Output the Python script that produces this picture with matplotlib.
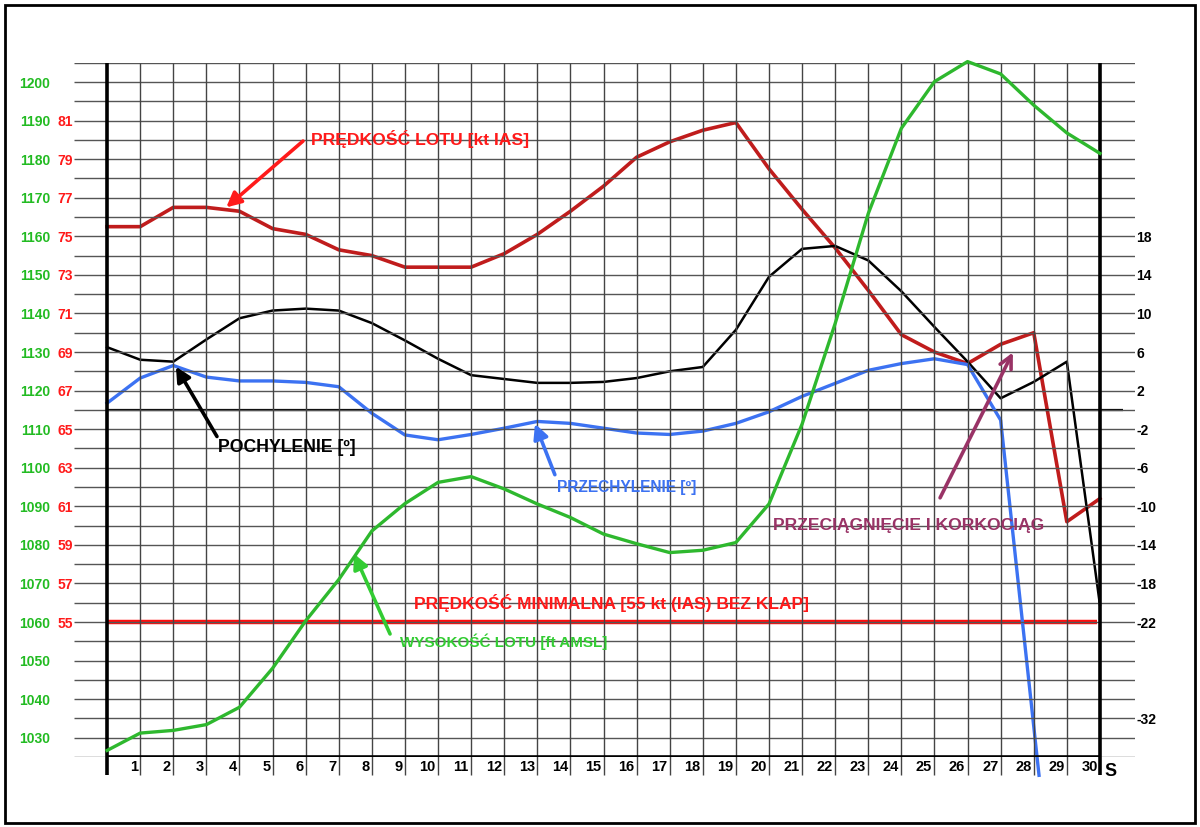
import numpy as np
import matplotlib.pyplot as plt
from matplotlib.patches import Rectangle

plt.rcParams['font.family'] = ['Liberation Sans Narrow', 'Liberation Sans', 'DejaVu Sans']
plt.rcParams['font.weight'] = 'bold'
plt.rcParams['axes.unicode_minus'] = False

# czas [s]
czas = list(range(31))
sek_etykiety = [''] + [str(i) for i in range(1, 31)]

# wysokosc lotu [ft AMSL]
wysokosc = [1026.7, 1031.2, 1031.9, 1033.4, 1037.9, 1048.0, 1060.3, 1071.0, 1083.6, 1090.7,
            1096.2, 1097.7, 1094.5, 1090.6, 1087.1, 1082.8, 1080.3, 1078.0, 1078.6, 1080.6,
            1090.6, 1111.3, 1137.4, 1165.9, 1188.0, 1200.1, 1205.3, 1202.1, 1194.0, 1186.8,
            1181.5]

# predkosc lotu [kt IAS]
predkosc = [75.5, 75.5, 76.5, 76.5, 76.3, 75.4, 75.1, 74.3, 74.0, 73.4,
            73.4, 73.4, 74.1, 75.1, 76.3, 77.6, 79.1, 79.9, 80.5, 80.9,
            78.5, 76.4, 74.4, 72.2, 69.9, 69.0, 68.4, 69.4, 70.0, 60.2,
            61.4]

# pochylenie [deg]
pochylenie = [6.5, 5.2, 5.0, 7.3, 9.5, 10.3, 10.5, 10.3, 9.0, 7.2,
              5.3, 3.6, 3.2, 2.8, 2.8, 2.9, 3.3, 4.0, 4.45, 8.3,
              13.8, 16.7, 17.0, 15.5, 12.3, 8.6, 5.0, 1.2, 2.9, 5.0,
              -20.2]

# przechylenie [deg] - konczy sie ponizej osi
czas_przech = list(range(28)) + [28.16]
przechylenie = [0.7, 3.3, 4.6, 3.4, 3.0, 3.0, 2.85, 2.4, -0.35, -2.6,
                -3.1, -2.55, -1.9, -1.2, -1.4, -1.9, -2.4, -2.55, -2.2, -1.4,
                -0.2, 1.4, 2.75, 4.1, 4.8, 5.3, 4.7, -1.06, -37.9]

v_min = 55
wys_ticks = list(range(1030, 1201, 10))
pred_ticks = list(range(55, 82, 2))
kat_ticks = [18, 14, 10, 6, 2, -2, -6, -10, -14, -18, -22, -32]

ZIELONY = '#2eb82e'
CZERWONY = '#c01c1c'
NIEBIESKI = '#3c72f2'
FIOLET = '#993366'

fig = plt.figure(figsize=(12, 8.27), dpi=100)
ax = fig.add_axes([74 / 1200, 70 / 827, 1061 / 1200, 694.25 / 827])
ax.set_xlim(-1, 31.06)
ax.set_ylim(1025, 1205)
for s in ax.spines.values():
    s.set_visible(False)

ax_pred = ax.twinx()
ax_pred.set_ylim(48, 84)
ax_kat = ax.twinx()
ax_kat.set_ylim(-36, 36)
for a in (ax_pred, ax_kat):
    for s in a.spines.values():
        s.set_visible(False)

# siatka
ax.hlines(np.arange(1025, 1206, 5), -1, 31.06, color='#555555', lw=1.0, zorder=1)
ax.vlines(range(1, 30), 1020.3, 1205, color='#444444', lw=1.0, zorder=1, clip_on=False)
ax.vlines([0, 30], 1020.3, 1205, color='black', lw=2.6, zorder=2, clip_on=False)
ax.hlines(1025, 0, 30, color='black', lw=2.6, zorder=2)
ax_kat.hlines(0, 0, 30.7, color='black', lw=1.6, zorder=2)

# osie
ax.set_xticks([])
ax.set_yticks(wys_ticks)
ax.tick_params(axis='y', length=0, pad=17, labelcolor='#22bb22', labelsize=10)
ax_pred.yaxis.tick_left()
ax_pred.set_yticks(pred_ticks)
ax_pred.tick_params(axis='y', length=0, pad=1, labelcolor='#ff1a1a', labelsize=10)
ax_kat.set_yticks(kat_ticks)
ax_kat.tick_params(axis='y', length=0, pad=1, labelsize=10)
for t, lab in zip(czas, sek_etykiety):
    ax.text(t - 0.07, 1024.2, lab, ha='right', va='top', fontsize=10.5)
ax.text(30.15, 1023.5, 'S', ha='left', va='top', fontsize=13)

# serie
ax_pred.plot(czas, predkosc, color=CZERWONY, lw=2.6, zorder=3, clip_on=False)
ax_pred.hlines(v_min, 0, 29.9, color='#ff0d0d', lw=3.2, zorder=3)
ax_kat.plot(czas, pochylenie, color='black', lw=1.8, zorder=3, clip_on=False)
ax_kat.plot(czas_przech, przechylenie, color=NIEBIESKI, lw=2.4, zorder=3, clip_on=False)
ax.plot(czas, wysokosc, color=ZIELONY, lw=2.4, zorder=4, clip_on=False)
ax.set_zorder(3)
ax.patch.set_visible(False)

# opisy
def strzalka(xy, xytext, kolor, styl='-|>'):
    ax.annotate('', xy=xy, xytext=xytext,
                arrowprops=dict(arrowstyle=styl, color=kolor, lw=2.6,
                                mutation_scale=22, shrinkA=0, shrinkB=0))

ax.text(6.16, 1185.2, 'PRĘDKOŚĆ LOTU [kt IAS]', color='#ff1a1a', fontsize=12.6, va='center')
strzalka((3.6, 1167.5), (5.92, 1184.7), '#ff1a1a')
ax.text(3.35, 1105.2, 'POCHYLENIE [º]', color='black', fontsize=12.7, va='center')
strzalka((2.08, 1126.2), (3.32, 1108.1), 'black')
ax.text(13.6, 1094.8, 'PRZECHYLENIE [º]', color=NIEBIESKI, fontsize=11.2, va='center')
strzalka((12.93, 1111.4), (13.53, 1098.2), NIEBIESKI)
ax.text(8.85, 1055.0, 'WYSOKOŚĆ LOTU [ft AMSL]', color='#33cc33', fontsize=11, va='center')
strzalka((7.46, 1077.7), (8.55, 1056.9), '#33cc33')
ax.text(9.27, 1064.9, 'PRĘDKOŚĆ MINIMALNA [55 kt (IAS) BEZ KLAP]', color='#ff1a1a',
        fontsize=12.5, va='center')
ax.text(20.12, 1084.9, 'PRZECIĄGNIĘCIE I KORKOCIĄG', color=FIOLET, fontsize=12.6, va='center')
strzalka((27.37, 1129.9), (25.17, 1092.2), FIOLET, styl='->')

fig.patches.append(Rectangle((5 / 1200, 4 / 827), 1190 / 1200, 818 / 827, fill=False,
                             edgecolor='black', lw=2, transform=fig.transFigure))

fig.savefig('out.png', dpi=100)
